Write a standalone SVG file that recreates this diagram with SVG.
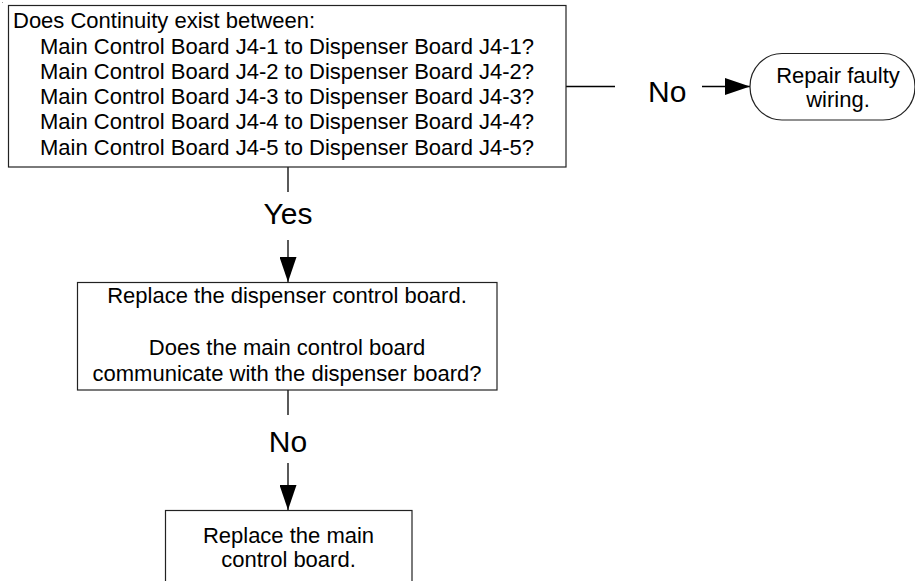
<svg xmlns="http://www.w3.org/2000/svg" width="915" height="581" viewBox="0 0 915 581">
<style>
  text { font-family: "Liberation Sans", Arial, sans-serif; fill: #000; }
  .t { font-size: 22px; }
  .lbl { font-size: 30px; }
  .box { fill: #fff; stroke: #222; stroke-width: 1.2; }
  .ln { fill: none; stroke: #000; stroke-width: 1.3; }
</style>
<defs>
  <marker id="ah" viewBox="0 0 25 17" refX="25" refY="8.5" markerWidth="25" markerHeight="17" markerUnits="userSpaceOnUse" orient="auto">
    <path d="M0,0 L25,8.5 L0,17 Z" fill="#000"/>
  </marker>
</defs>
<rect x="0" y="0" width="915" height="581" fill="#fff"/>
<rect x="2" y="2" width="1" height="1" fill="#999"/>

<g id="connectors">
  <line class="ln" x1="566" y1="86.5" x2="615" y2="86.5"/>
  <text class="lbl" x="648" y="102">No</text>
  <line class="ln" x1="702" y1="86.5" x2="750" y2="86.5" marker-end="url(#ah)"/>

  <line class="ln" x1="288" y1="167" x2="288" y2="192"/>
  <text class="lbl" x="288" y="224" text-anchor="middle">Yes</text>
  <line class="ln" x1="288" y1="240" x2="288" y2="282" marker-end="url(#ah)"/>

  <line class="ln" x1="288" y1="390" x2="288" y2="415"/>
  <text class="lbl" x="288" y="452" text-anchor="middle">No</text>
  <line class="ln" x1="288" y1="463" x2="288" y2="510" marker-end="url(#ah)"/>
</g>

<g id="node-continuity">
  <rect class="box" x="8.5" y="5.5" width="557.5" height="161.5"/>
  <text class="t" x="13" y="28">Does Continuity exist between:</text>
  <text class="t" x="40" y="54">Main Control Board J4-1 to Dispenser Board J4-1?</text>
  <text class="t" x="40" y="79">Main Control Board J4-2 to Dispenser Board J4-2?</text>
  <text class="t" x="40" y="104">Main Control Board J4-3 to Dispenser Board J4-3?</text>
  <text class="t" x="40" y="129">Main Control Board J4-4 to Dispenser Board J4-4?</text>
  <text class="t" x="40" y="155">Main Control Board J4-5 to Dispenser Board J4-5?</text>
</g>

<g id="node-repair">
  <rect class="box" x="750" y="53.5" width="165" height="66.5" rx="32" ry="33"/>
  <text class="t" x="838" y="83" text-anchor="middle">Repair faulty</text>
  <text class="t" x="838" y="107" text-anchor="middle">wiring.</text>
</g>

<g id="node-replace-dispenser">
  <rect class="box" x="77.5" y="282.5" width="419.5" height="107.5"/>
  <text class="t" x="287" y="303" text-anchor="middle">Replace the dispenser control board.</text>
  <text class="t" x="287" y="355" text-anchor="middle">Does the main control board</text>
  <text class="t" x="287" y="381" text-anchor="middle">communicate with the dispenser board?</text>
</g>

<g id="node-replace-main">
  <rect class="box" x="165.5" y="510.5" width="246.5" height="110"/>
  <text class="t" x="288.5" y="543" text-anchor="middle">Replace the main</text>
  <text class="t" x="288.5" y="567" text-anchor="middle">control board.</text>
</g>
</svg>
